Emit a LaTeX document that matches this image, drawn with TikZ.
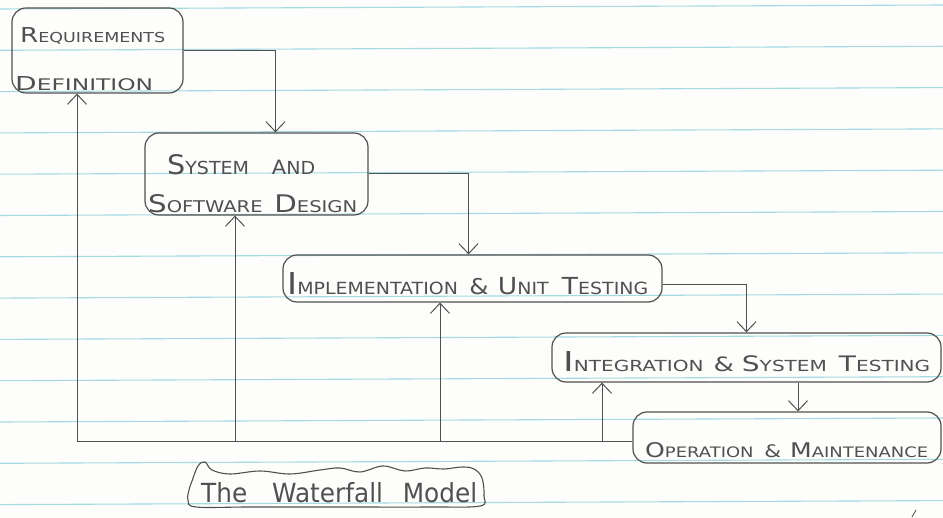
\documentclass[tikz,border=0pt]{standalone}
\usepackage{fontspec}
\setmainfont{DejaVu Sans}
\usetikzlibrary{arrows.meta}

\definecolor{paper}{RGB}{253,253,251}
\definecolor{pencil}{RGB}{80,80,80}
\definecolor{ruling}{RGB}{165,218,226}

% hand-lettered small caps: a tall initial followed by smaller capitals
\newcommand\hw[3][15]{{\fontsize{#1}{#1}\selectfont #2}{\fontsize{10}{10}\selectfont #3}}
\newcommand\amp[1][13]{{\fontsize{#1}{#1}\selectfont\&}}

\begin{document}
\begin{tikzpicture}[x=1pt,y=-1pt,
  stage/.style={draw=pencil, line width=1.2pt, rounded corners=14pt, inner sep=0pt},
  wire/.style={draw=pencil, line width=1pt},
  arr/.style={wire, -{Straight Barb[length=10pt,width=19pt,line width=1pt]}},
  lettering/.style={inner sep=0pt, anchor=base west, text=pencil}]

% paper and ruling
\fill[paper] (0,0) rectangle (943,518);
\useasboundingbox (0,0) rectangle (943,518);
\foreach \k in {0,...,12}
  \draw[ruling, line width=1.1pt] (0,{9+41.3*\k}) -- (943,{5+41.3*\k});

% the five stages
\node[stage, minimum width=171pt, minimum height=85pt] (req)   at (97.5,50.5) {};
\node[stage, minimum width=223pt, minimum height=82pt] (sys)   at (256.5,174) {};
\node[stage, minimum width=379pt, minimum height=47pt] (impl)  at (472.5,278.5) {};
\node[stage, minimum width=389pt, minimum height=49pt] (integ) at (746.5,357.5) {};
\node[stage, minimum width=308pt, minimum height=51pt] (op)    at (787,437.5) {};

% stage lettering
\node[lettering] (t1) at (20,43)  {\resizebox{145pt}{15pt}{\hw{R}{EQUIREMENTS}}};
\node[lettering] (t2) at (15,91)  {\resizebox{138pt}{14pt}{\hw[12]{D}{EFINITION}}};
\node[lettering] (t3) at (167,175) {\resizebox{148pt}{20pt}{\hw{S}{YSTEM}\hspace{1.2em}\hw[11]{A}{ND}}};
\node[lettering] (t4) at (148,213) {\resizebox{209pt}{18pt}{\hw{S}{OFTWARE}\hspace{0.6em}\hw{D}{ESIGN}}};
\node[lettering] (t5) at (287,295) {\resizebox{361pt}{22pt}{\hw[18]{I}{MPLEMENTATION}\hspace{0.6em}\amp\hspace{0.5em}\hw[14]{U}{NIT}\hspace{0.7em}\hw[14]{T}{ESTING}}};
\node[lettering] (t6) at (563,372) {\resizebox{367pt}{20pt}{\hw[18]{I}{NTEGRATION}\hspace{0.5em}\amp\hspace{0.4em}\hw[14]{S}{YSTEM}\hspace{0.6em}\hw[14]{T}{ESTING}}};
\node[lettering] (t7) at (645,458) {\resizebox{283pt}{15pt}{\hw[14]{O}{PERATION}\hspace{0.6em}\amp[12]\hspace{0.5em}\hw[14]{M}{AINTENANCE}}};

% positions of the vertical runs
\coordinate (x77)  at (77,0);
\coordinate (x235) at (235,0);
\coordinate (x440) at (440,0);
\coordinate (x602) at (602,0);
\coordinate (x798) at (798,0);
% the feedback line leaves the last stage a little below its middle
\coordinate (bus) at ([yshift=-4.5pt]op.west);

% cascade downwards
\draw[arr] (req.east) -| ([xshift=19pt]sys.north);
\draw[arr] (sys.east) -| ([xshift=-4pt]impl.north);
\draw[arr] ([yshift=-6pt]impl.east) -| (integ.north);
\draw[arr] (integ.south -| x798) -- (op.north -| x798);

% feedback back up to every earlier stage
\draw[arr] (bus) -| (req.south -| x77);
\draw[arr] (bus -| x235) -- (sys.south -| x235);
\draw[arr] (bus -| x440) -- (impl.south -| x440);
\draw[arr] (bus -| x602) -- (integ.south -| x602);

% caption in a wavy cloud
\draw[pencil, line width=1.1pt] plot[smooth cycle, tension=0.6] coordinates {
  (192,481) (198,466) (205,462) (212,470) (230,474) (260,471) (290,474)
  (320,470) (340,468) (360,472) (383,466) (405,471) (425,468) (444,469)
  (462,467) (474,469) (482,478) (484,496) (480,506) (430,507) (340,507)
  (250,507) (196,507) (188,500) (189,490)};
\node[lettering] (title) at (201,503) {\resizebox{276pt}{20pt}{\fontsize{14}{14}\selectfont The\hspace{1em}Waterfall\hspace{0.8em}Model}};

% stray pencil mark
\draw[pencil, line width=0.8pt, line cap=round] (912,517) -- (916,510);
\end{tikzpicture}
\end{document}
